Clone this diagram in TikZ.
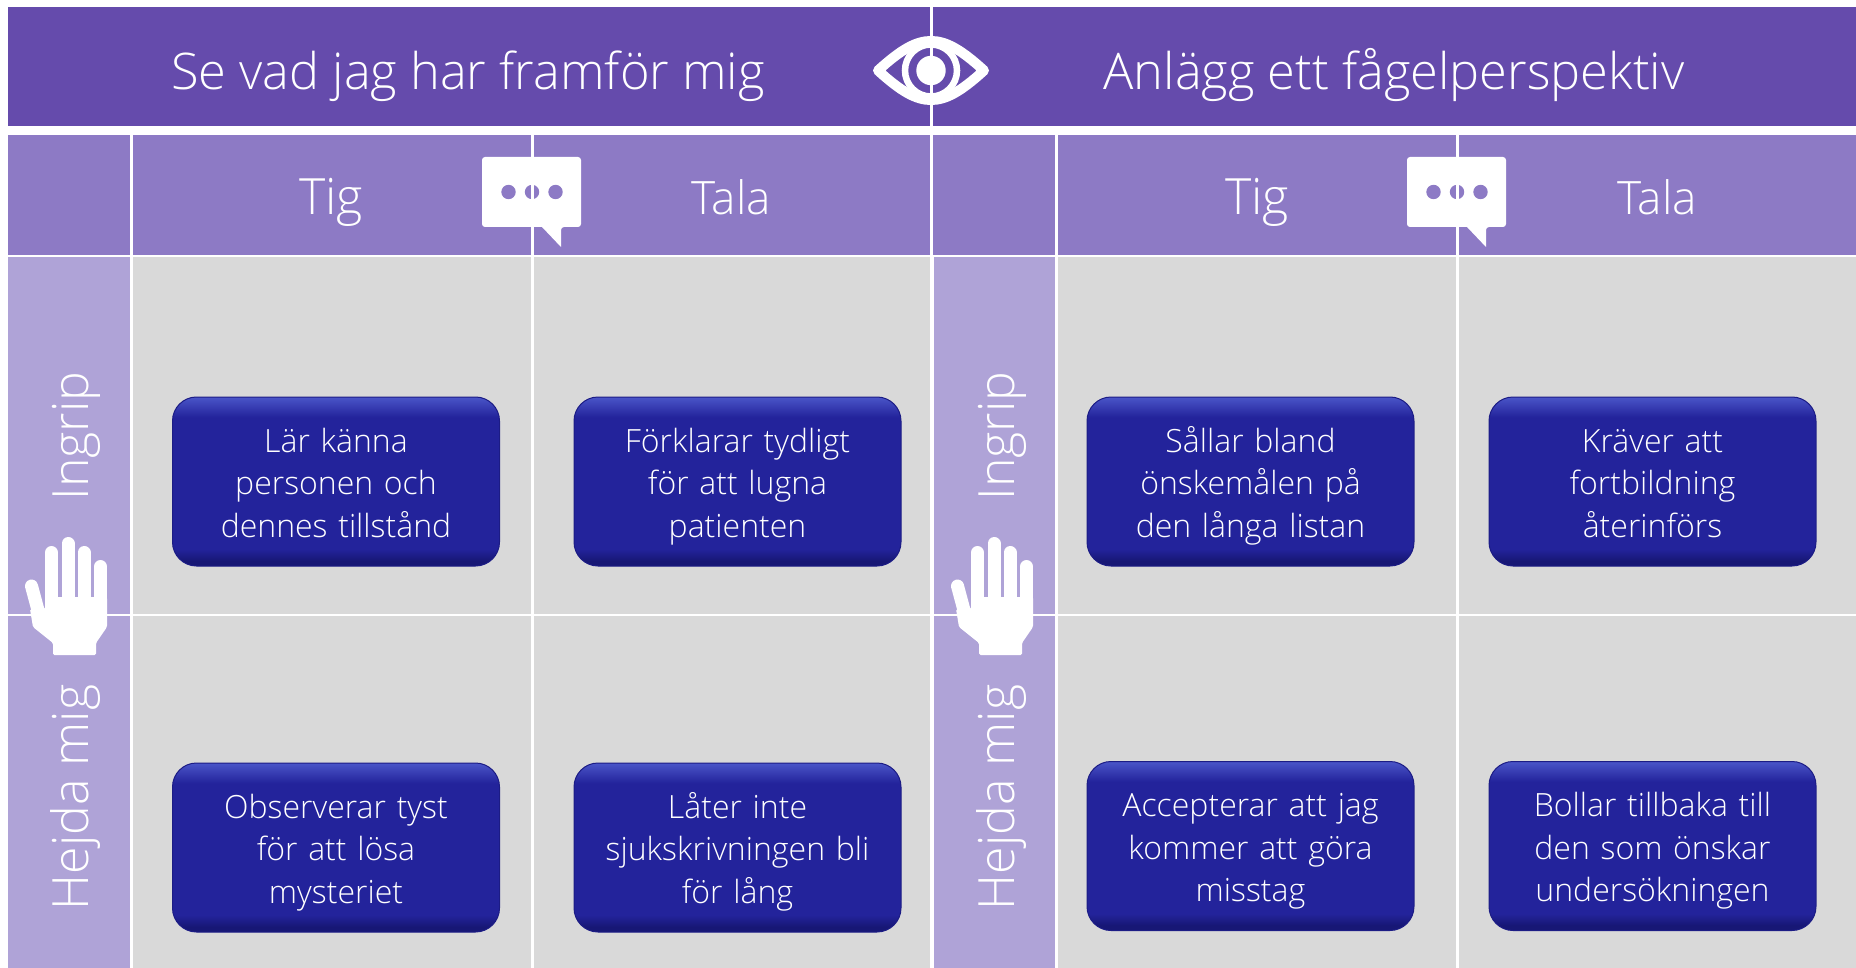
\documentclass[tikz,border=0pt]{standalone}
\usepackage{fontspec}
\setmainfont{Open Sans}[UprightFont={* Light}]
\definecolor{hdr}{HTML}{654BAC}
\definecolor{sub}{HTML}{8D7AC5}
\definecolor{side}{HTML}{AFA3D7}
\definecolor{cell}{HTML}{D9D9D9}
\definecolor{boxmain}{HTML}{23239B}
\definecolor{boxlight}{HTML}{4A55C8}
\definecolor{boxdark}{HTML}{171775}
\definecolor{boxedge}{HTML}{1C1C85}
\pgfdeclareverticalshading{boxshade}{100bp}{color(0bp)=(boxdark); color(25bp)=(boxdark); color(26.5bp)=(boxdark); color(30bp)=(boxmain); color(69bp)=(boxmain); color(75bp)=(boxlight); color(100bp)=(boxlight)}
\newcommand{\threelines}[3]{\rule[-10pt]{0pt}{46.5pt}#1\\#2\\\rule[-10pt]{0pt}{20pt}#3}
\tikzset{
 x=1pt,y=-1pt,
 head/.style={text=white,anchor=base,font=\fontsize{50.5}{50}\selectfont,inner sep=0},
 colhead/.style={text=white,anchor=base,font=\fontsize{#1}{50}\selectfont,inner sep=0},
 sidehead/.style={text=white,rotate=90,anchor=base west,font=\fontsize{50}{50}\selectfont,inner sep=0},
 actor/.style={rounded corners=24pt,shading=boxshade,draw=boxedge,line width=1pt,minimum width=327pt,minimum height=169pt,align=center,text=white,font=\fontsize{32}{42.5}\selectfont,inner sep=0,text width=322pt},
 whiteline/.style={draw=white,line width=3pt},
}
\newcommand{\eyeicon}[2]{%
 \begin{scope}[shift={(#1,#2)}]
  \draw[white,line width=10pt,line join=round,fill=hdr] (-53,0) .. controls (-30,-21) and (-15,-29.5) .. (0,-29.5) .. controls (15,-29.5) and (30,-21) .. (53,0) .. controls (30,21) and (15,29.5) .. (0,29.5) .. controls (-15,29.5) and (-30,21) .. (-53,0) -- cycle;
  \draw[white,line width=6.5pt,fill=hdr] (0,0) circle (26);
 \end{scope}}
\newcommand{\pupilicon}[2]{\fill[white] (#1,#2) circle (14.7);}
\newcommand{\bubbleicon}[2]{%
 \begin{scope}[shift={(#1,#2)}]
  \fill[white,rounded corners=3pt] (-50,-35) -- (49,-35) -- (49,35) -- (29,35) [sharp corners] -- (29,55) -- (10,35) [rounded corners=3pt] -- (-50,35) -- cycle;
  \fill[sub] (-23.5,0) circle (7.2) (0,0) circle (7.2) (23.5,0) circle (7.2);
 \end{scope}}
\newcommand{\handicon}[2]{%
 \begin{scope}[shift={(#1,#2)}]
  \draw[white,line width=13pt,line cap=round] (6.5,49) -- (17,88);
  \draw[white,line width=13pt,line cap=round] (26.5,15.5) -- (26.5,65);
  \draw[white,line width=13pt,line cap=round] (43,6.5) -- (43,65);
  \draw[white,line width=13pt,line cap=round] (59,15.5) -- (59,65);
  \draw[white,line width=13pt,line cap=round] (75.5,29.5) -- (75.5,70);
  \fill[white,rounded corners=1.5pt] (20,60) -- (82,60) -- (82,90) -- (71,106) -- (71,118) -- (28,118) -- (28,106) -- (8,90) -- (5,72) -- (20,72) -- cycle;
 \end{scope}}
\begin{document}
\begin{tikzpicture}
\useasboundingbox (0,0) rectangle (1856,968);
\fill[white] (0,0) rectangle (1856,968);
% header
\fill[hdr] (8,7) rectangle (1856,126);
% subheader
\fill[sub] (8,135) rectangle (1856,255);
% side columns
\fill[side] (8,257) rectangle (130,968);
\fill[side] (934,257) rectangle (1055,968);
% cells
\fill[cell] (133,257) rectangle (932,968);
\fill[cell] (1058,257) rectangle (1856,968);
% icons
\eyeicon{931}{70.5}
\bubbleicon{532}{192}
\bubbleicon{1457}{192}
% grid lines
\draw[white,line width=2.5pt] (8,615) -- (1856,615);
\draw[whiteline] (931.5,7) -- (931.5,968);
\draw[whiteline] (131.5,135) -- (131.5,968);
\draw[whiteline] (1056.5,135) -- (1056.5,968);
\draw[whiteline] (532,135) -- (532,968);
\draw[whiteline] (1457,135) -- (1457,968);
\pupilicon{931}{70.5}
\handicon{25}{537}
\handicon{951}{537}
% headers
\node[head] (h1) at (468,90) {Se vad jag har framför mig};
\node[head] (h2) at (1394,90) {Anlägg ett fågelperspektiv};
\node[colhead=50] (t1) at (331,215) {Tig};
\node[colhead=46] (t2) at (731,215) {Tala};
\node[colhead=50] (t3) at (1257,215) {Tig};
\node[colhead=46] (t4) at (1657,215) {Tala};
\node[sidehead] (s1) at (88,500.5) {Ingrip};
\node[sidehead] (s2) at (88,910.5) {Hejda mig};
\node[sidehead] (s3) at (1014,500.5) {Ingrip};
\node[sidehead] (s4) at (1014,910.5) {Hejda mig};
% actors
\node[actor] (a1) at (336,481.5) {\threelines{Lär känna}{personen och}{dennes tillstånd}};
\node[actor] (a2) at (737.5,481.5) {\threelines{Förklarar tydligt}{för att lugna}{patienten}};
\node[actor] (a3) at (1250.5,481.5) {\threelines{Sållar bland}{önskemålen på}{den långa listan}};
\node[actor] (a4) at (1652.5,481.5) {\threelines{Kräver att}{fortbildning}{återinförs}};
\node[actor] (a5) at (336,847.5) {\threelines{Observerar tyst}{för att lösa}{mysteriet}};
\node[actor] (a6) at (737.5,847.5) {\threelines{Låter inte}{sjukskrivningen bli}{för lång}};
\node[actor] (a7) at (1250.5,846) {\threelines{Accepterar att jag}{kommer att göra}{misstag}};
\node[actor] (a8) at (1652.5,846) {\threelines{Bollar tillbaka till}{den som önskar}{undersökningen}};
\end{tikzpicture}
\end{document}
